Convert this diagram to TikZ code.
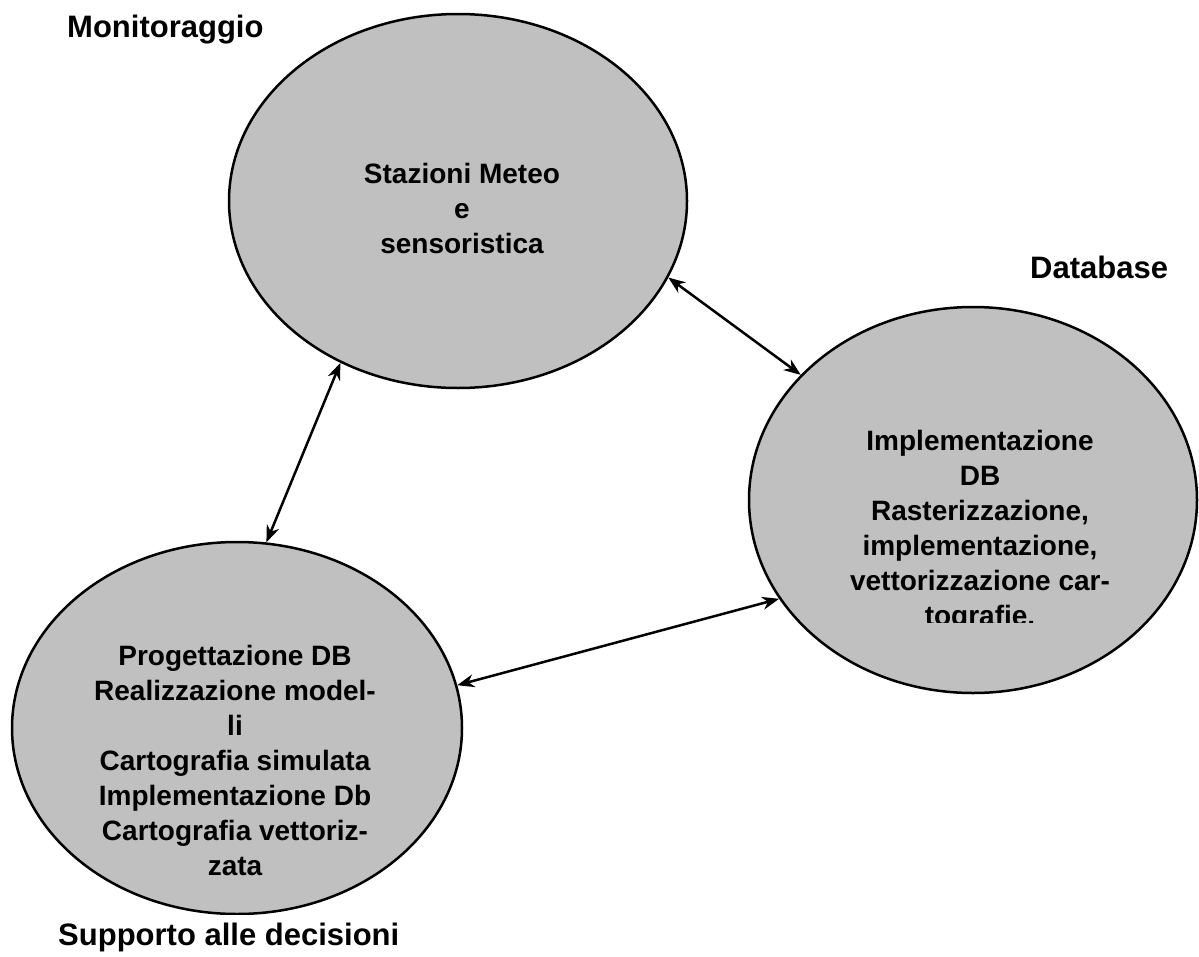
\documentclass[tikz,border=0pt]{standalone}
\usepackage{fontspec}
\setmainfont{Liberation Sans}
\usetikzlibrary{shapes.geometric,arrows.meta}
\definecolor{cgrey}{RGB}{192,192,192}
\begin{document}
\begin{tikzpicture}[x=1pt,y=-1pt,
  ell/.style={ellipse,draw=black,line width=2.5pt,fill=cgrey,inner sep=0pt},
  inner/.style={font=\bfseries\fontsize{28}{35}\selectfont,align=center,inner sep=0pt},
  lab/.style={font=\bfseries\fontsize{31}{37}\selectfont,inner sep=0pt,anchor=base west},
  conn/.style={line width=2.5pt,{Stealth[length=17pt,width=13pt]}-{Stealth[length=17pt,width=13pt]}}]
\useasboundingbox (0,0) rectangle (1199,956);

\node[ell,minimum width=458pt,minimum height=374pt] (mon) at (458,201) {};
\node[ell,minimum width=448pt,minimum height=386pt] (db) at (973,500) {};
\begin{scope}
  \clip (0,0) rectangle (1199,914);
  \node[ell,minimum width=450pt,minimum height=372pt] (sup) at (237,728) {};
\end{scope}

\node[inner] (montext) at (462,208) {Stazioni Meteo\\e\\sensoristica};
\begin{scope}
  \clip (760,380) rectangle (1190,622);
  \node[inner] (dbtext) at (980,531) {Implementazione\\DB\\Rasterizzazione,\\implementazione,\\vettorizzazione car-\\tografie.};
\end{scope}
\node[inner] (suptext) at (235,760) {Progettazione DB\\Realizzazione model-\\li\\Cartografia simulata\\Implementazione Db\\Cartografia vettoriz-\\zata};

\node[lab] (lmon) at (67,37) {Monitoraggio};
\node[lab] (ldb) at (1030,278) {Database};
\node[lab] (lsup) at (58,945) {Supporto alle decisioni};

\draw[conn] (mon.-20) -- (db.144.9);
\draw[conn] (mon.234.2) -- (sup.81.7);
\draw[conn] (sup.11.5) -- (db.207.7);
\end{tikzpicture}
\end{document}
